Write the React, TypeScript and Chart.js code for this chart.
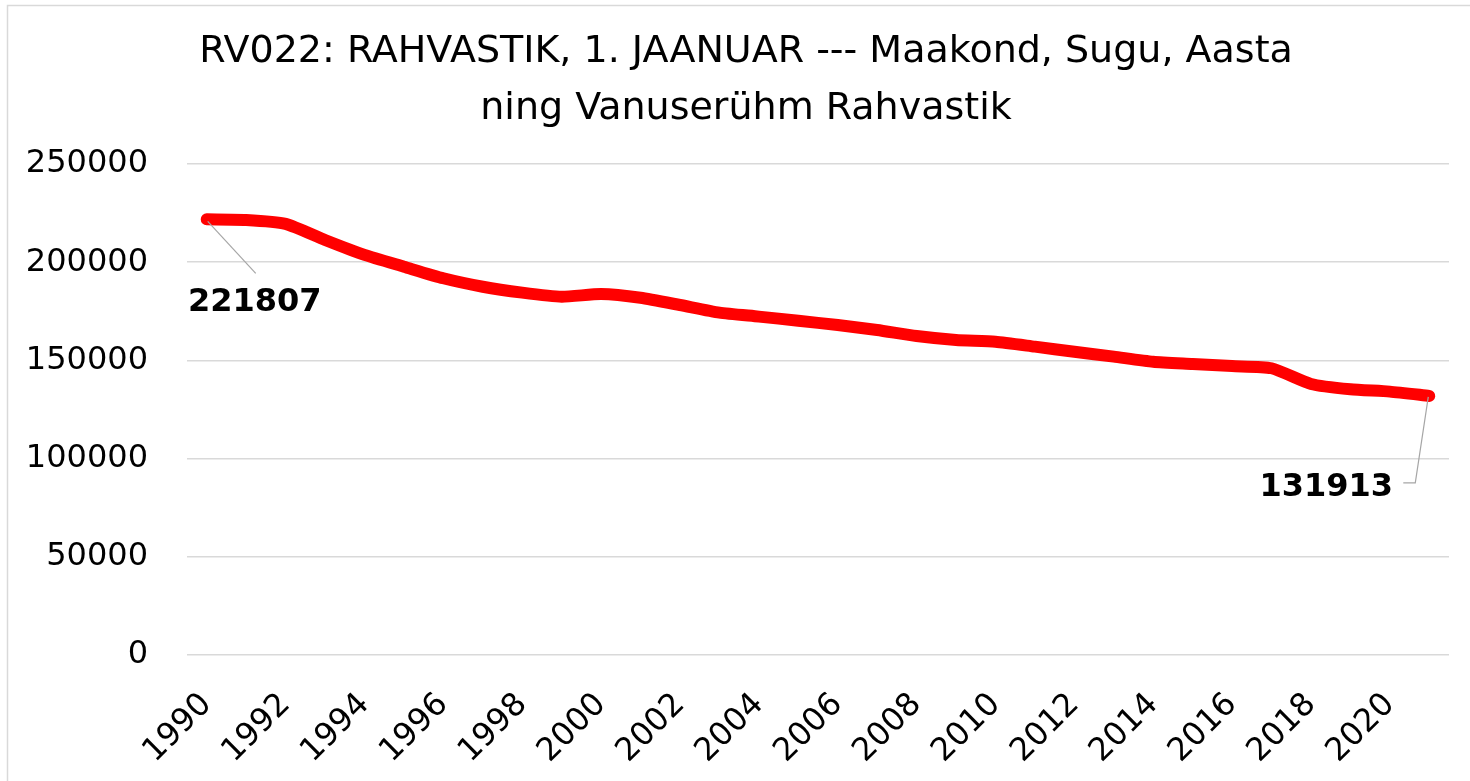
import { useEffect, useRef } from "react";
import { Chart, registerables } from "chart.js";

Chart.register(...registerables);

const years: string[] = [
  "1990", "1991", "1992", "1993", "1994", "1995", "1996", "1997", "1998", "1999",
  "2000", "2001", "2002", "2003", "2004", "2005", "2006", "2007", "2008", "2009",
  "2010", "2011", "2012", "2013", "2014", "2015", "2016", "2017", "2018", "2019",
  "2020", "2021",
];

const population: number[] = [
  221807, 221500, 219500, 211300, 203700, 197700, 191800, 187500, 184500, 182400,
  183800, 181900, 178200, 174300, 172300, 170200, 168000, 165500, 162400, 160400,
  159500, 157000, 154400, 151900, 149300, 148200, 147100, 146000, 138000, 135300,
  134100, 131913,
];

const titleLines: string[] = [
  "RV022: RAHVASTIK, 1. JAANUAR --- Maakond, Sugu, Aasta",
  "ning Vanuserühm Rahvastik",
];

const yMin = 0;
const yMax = 250000;
const yStep = 50000;

export default function App() {
  const canvasRef = useRef<HTMLCanvasElement | null>(null);

  useEffect(() => {
    document.body.style.margin = "0";
    const canvas = canvasRef.current;
    if (!canvas) return;

    const framePlugin = {
      id: "frame",
      beforeDraw(chart: any) {
        const ctx = chart.ctx;
        ctx.save();
        ctx.fillStyle = "#ffffff";
        ctx.fillRect(0, 0, chart.width, chart.height);
        ctx.strokeStyle = "#d9d9d9";
        ctx.lineWidth = 1.5;
        ctx.strokeRect(7.5, 5.5, chart.width + 20, chart.height + 20);
        ctx.restore();
      },
    };

    const titlePlugin = {
      id: "twoLineTitle",
      afterDraw(chart: any) {
        const ctx = chart.ctx;
        ctx.save();
        ctx.fillStyle = "#000000";
        ctx.font = "38px 'DejaVu Sans'";
        ctx.textAlign = "center";
        ctx.textBaseline = "alphabetic";
        const cx = 746;
        ctx.fillText(titleLines[0], cx, 62);
        ctx.fillText(titleLines[1], cx, 119);
        ctx.restore();
      },
    };

    const labelPlugin = {
      id: "endLabels",
      afterDatasetsDraw(chart: any) {
        const meta = chart.getDatasetMeta(0);
        const first = meta.data[0];
        const lastIdx = meta.data.length - 1;
        const last = meta.data[lastIdx];
        const ctx = chart.ctx;
        ctx.save();
        ctx.strokeStyle = "#a6a6a6";
        ctx.lineWidth = 1.2;
        ctx.beginPath();
        ctx.moveTo(first.x + 1, first.y + 2);
        ctx.lineTo(first.x + 49, first.y + 54);
        ctx.stroke();
        ctx.beginPath();
        ctx.moveTo(last.x - 1, last.y + 1);
        ctx.lineTo(last.x - 14, last.y + 87);
        ctx.lineTo(last.x - 26, last.y + 87);
        ctx.stroke();

        ctx.fillStyle = "#000000";
        ctx.font = "bold 32px 'DejaVu Sans'";
        ctx.textAlign = "center";
        ctx.textBaseline = "middle";
        ctx.fillText(String(population[0]), first.x + 48, first.y + 83);
        ctx.fillText(String(population[lastIdx]), last.x - 103, last.y + 92);
        ctx.restore();
      },
    };

    const chart = new Chart(canvas, {
      type: "line",
      data: {
        labels: years,
        datasets: [
          {
            label: "Rahvastik",
            data: population,
            borderColor: "#ff0000",
            backgroundColor: "#ff0000",
            borderWidth: 12,
            borderCapStyle: "round",
            borderJoinStyle: "round",
            pointRadius: 0,
            pointHoverRadius: 0,
            tension: 0.2,
            fill: false,
          },
        ],
      },
      options: {
        animation: false,
        responsive: false,
        maintainAspectRatio: false,
        layout: { padding: { top: 164, left: 0, right: 21, bottom: 0 } },
        plugins: {
          legend: { display: false },
          title: { display: false },
          tooltip: { enabled: false },
        },
        scales: {
          x: {
            type: "category",
            offset: true,
            grid: { display: false, drawTicks: false },
            border: { display: false },
            ticks: {
              autoSkip: false,
              minRotation: 45,
              maxRotation: 45,
              padding: 31,
              color: "#000000",
              font: { family: "'DejaVu Sans'", size: 32 },
              callback: (_v: any, i: number) => (i % 2 === 0 ? years[i] : ""),
            },
            afterFit: (scale: any) => {
              scale.height = 126;
              scale.paddingRight = 0;
              scale.paddingLeft = 0;
            },
          },
          y: {
            min: yMin,
            max: yMax,
            grid: { color: "#d9d9d9", lineWidth: 1.5, drawTicks: false },
            border: { display: false },
            ticks: {
              stepSize: yStep,
              padding: 39,
              color: "#000000",
              font: { family: "'DejaVu Sans'", size: 32 },
              callback: (v: any) => String(v),
            },
            afterFit: (scale: any) => {
              scale.width = 187;
            },
          },
        },
      },
      plugins: [framePlugin, titlePlugin, labelPlugin],
    });

    return () => {
      chart.destroy();
    };
  }, []);

  return (
    <div style={{ width: 1470, height: 781, position: "relative" }}>
      <canvas ref={canvasRef} width={1470} height={781} style={{ display: "block" }} />
    </div>
  );
}
